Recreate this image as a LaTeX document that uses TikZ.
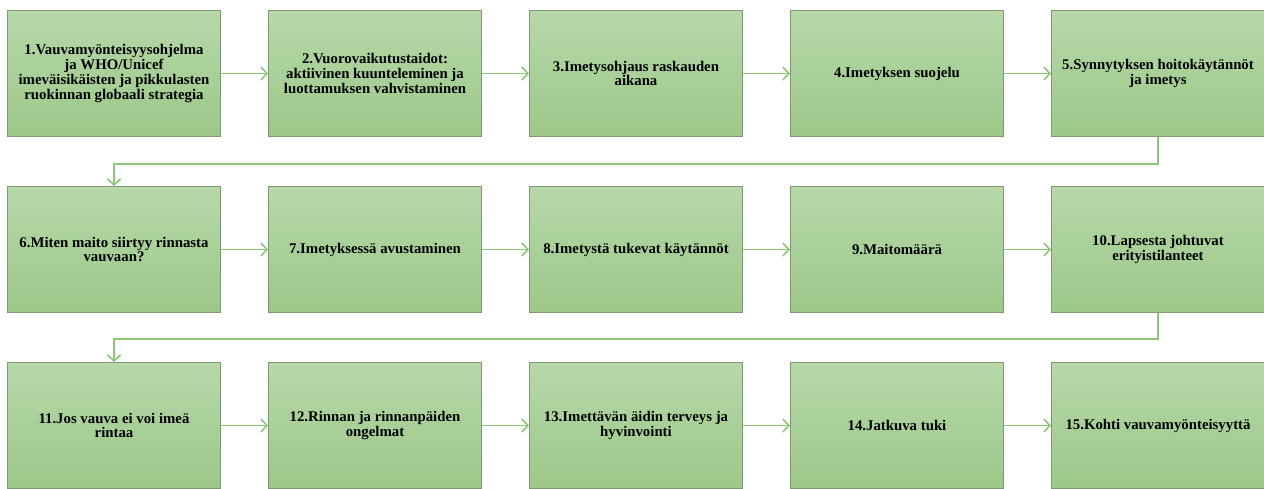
\documentclass[tikz,border=0pt]{standalone}
\usepackage{fontspec}
\setmainfont{Liberation Serif}
\usetikzlibrary{arrows.meta}
\definecolor{boxtop}{HTML}{B7D8A9}
\definecolor{boxbot}{HTML}{9CC889}
\definecolor{boxline}{HTML}{7E9A72}
\definecolor{arrowc}{HTML}{8DC676}
\tikzset{
  stepbox/.style={rectangle, draw=boxline, line width=1pt, top color=boxtop, bottom color=boxbot,
    minimum width=213pt, minimum height=126pt, anchor=north west, inner sep=2pt,
    align=center, font=\fontsize{14.8}{14.8}\selectfont\bfseries},
  link/.style={draw=arrowc, line width=1.6pt, -{Straight Barb[length=6pt,width=13pt,line width=1.6pt]}}
}
\begin{document}
\begin{tikzpicture}[x=1pt,y=-1pt]
\useasboundingbox (0,0) rectangle (1264,489);
% row 1
\node[stepbox] (n1) at (7,10) {\fontsize{14.8}{12.5}\selectfont 1.Vauvamyönteisyysohjelma\\ja WHO/Unicef\\imeväisikäisten ja pikkulasten\\ruokinnan globaali strategia};
\node[stepbox] (n2) at (268,10) {2.Vuorovaikutustaidot:\\aktiivinen kuunteleminen ja\\luottamuksen vahvistaminen};
\node[stepbox] (n3) at (529,10) {3.Imetysohjaus raskauden\\aikana};
\node[stepbox] (n4) at (790,10) {4.Imetyksen suojelu};
\node[stepbox] (n5) at (1051,10) {5.Synnytyksen hoitokäytännöt\\ja imetys};
% row 2
\node[stepbox] (n6) at (7,186) {6.Miten maito siirtyy rinnasta\\vauvaan?};
\node[stepbox] (n7) at (268,186) {7.Imetyksessä avustaminen};
\node[stepbox] (n8) at (529,186) {8.Imetystä tukevat käytännöt};
\node[stepbox] (n9) at (790,186) {9.Maitomäärä};
\node[stepbox] (n10) at (1051,186) {10.Lapsesta johtuvat\\erityistilanteet};
% row 3
\node[stepbox] (n11) at (7,362) {11.Jos vauva ei voi imeä\\rintaa};
\node[stepbox] (n12) at (268,362) {12.Rinnan ja rinnanpäiden\\ongelmat};
\node[stepbox] (n13) at (529,362) {13.Imettävän äidin terveys ja\\hyvinvointi};
\node[stepbox] (n14) at (790,362) {14.Jatkuva tuki};
\node[stepbox] (n15) at (1051,362) {15.Kohti vauvamyönteisyyttä};
% connectors
\draw[link] (n1) -- (n2);
\draw[link] (n2) -- (n3);
\draw[link] (n3) -- (n4);
\draw[link] (n4) -- (n5);
\draw[link] (n5.south) -- ++(0,27) -| (n6.north);
\draw[link] (n6) -- (n7);
\draw[link] (n7) -- (n8);
\draw[link] (n8) -- (n9);
\draw[link] (n9) -- (n10);
\draw[link] (n10.south) -- ++(0,26) -| (n11.north);
\draw[link] (n11) -- (n12);
\draw[link] (n12) -- (n13);
\draw[link] (n13) -- (n14);
\draw[link] (n14) -- (n15);
\end{tikzpicture}
\end{document}
